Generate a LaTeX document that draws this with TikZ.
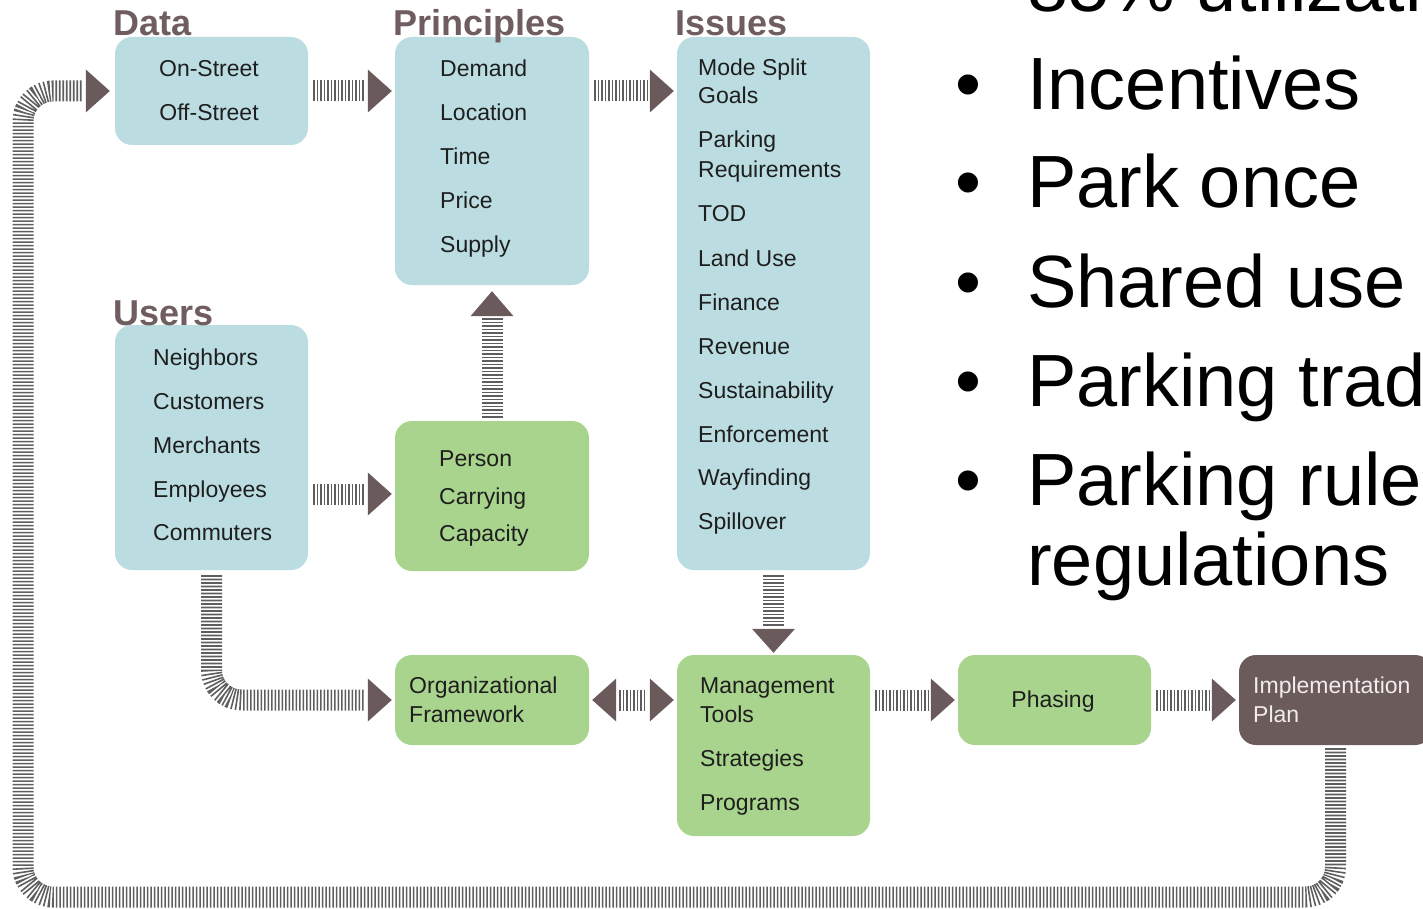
\documentclass[tikz,border=0pt]{standalone}
\usepackage{fontspec}
\setmainfont{Liberation Sans}
\usetikzlibrary{calc}
\definecolor{boxblue}{HTML}{BBDDE1}
\definecolor{boxgreen}{HTML}{A9D48D}
\definecolor{boxbrown}{HTML}{6B5B5B}
\definecolor{titlecol}{HTML}{6F5D5F}
\definecolor{tipcol}{HTML}{6B5A5B}
\definecolor{hatchcol}{HTML}{5E5E5E}
\definecolor{txtcol}{HTML}{1E1E1E}
\definecolor{impltxt}{HTML}{F2ECEC}
\newcommand\tipR[1]{\fill[tipcol] (#1) -- ++(-24,-21.5) -- ++(0,43) -- cycle;}
\newcommand\tipL[1]{\fill[tipcol] (#1) -- ++(24,-21.5) -- ++(0,43) -- cycle;}
\newcommand\tipU[1]{\fill[tipcol] (#1) -- ++(-21.5,25) -- ++(43,0) -- cycle;}
\newcommand\tipD[1]{\fill[tipcol] (#1) -- ++(-21.5,-24) -- ++(43,0) -- cycle;}
\begin{document}
\begin{tikzpicture}[x=1pt,y=-1pt,
  box/.style={rounded corners=17pt, inner sep=0pt, minimum width=193pt},
  bluebox/.style={box, fill=boxblue},
  greenbox/.style={box, fill=boxgreen},
  brownbox/.style={box, fill=boxbrown},
  txt/.style={font=\fontsize{23}{28}\selectfont, text=txtcol, inner sep=0pt, anchor=base west},
  ctxt/.style={txt, anchor=base},
  itxt/.style={txt, text=impltxt},
  title/.style={font=\fontsize{36}{40}\selectfont\bfseries, text=titlecol, inner sep=0pt, anchor=base west},
  big/.style={font=\fontsize{74}{80}\selectfont, text=black, inner sep=0pt, anchor=base west},
  bul/.style={font=\fontsize{74}{80}\selectfont, text=black, inner sep=0pt, anchor=base},
  hatch/.style={draw=hatchcol, line width=21pt, dash pattern=on 1.6pt off 1.9pt},
]
\useasboundingbox (0,0) rectangle (1423,909);
\clip (0,0) rectangle (1423,909);
\fill[white] (0,0) rectangle (1423,909);

% boxes
\node[bluebox, minimum height=108pt] (data) at (211.5,91) {};
\node[bluebox, minimum height=248pt, minimum width=194pt] (princ) at (492,161) {};
\node[bluebox, minimum height=533pt] (issues) at (773.5,303.5) {};
\node[bluebox, minimum height=245pt] (users) at (211.5,447.5) {};
\node[greenbox, minimum height=150pt, minimum width=194pt] (person) at (492,496) {};
\node[greenbox, minimum height=90pt, minimum width=194pt] (org) at (492,700) {};
\node[greenbox, minimum height=181pt] (mgmt) at (773.5,745.5) {};
\node[greenbox, minimum height=90pt] (phasing) at (1054.5,700) {};
\node[brownbox, minimum height=90pt] (impl) at (1335.5,700) {};

% titles
\node[title] (tdata) at (113,36) {Data};
\node[title] (tprinc) at (393,36) {Principles};
\node[title] (tissues) at (675,36) {Issues};
\node[title] (tusers) at (113,325) {Users};

% box texts
\node[ctxt] (d1) at (209,77) {On-Street};
\node[ctxt] (d2) at (209,121) {Off-Street};

\node[txt] (p1) at (440,77) {Demand};
\node[txt] (p2) at (440,121) {Location};
\node[txt] (p3) at (440,165) {Time};
\node[txt] (p4) at (440,209) {Price};
\node[txt] (p5) at (440,253) {Supply};

\node[txt] (i1) at (698,76) {Mode Split};
\node[txt] (i2) at (698,104) {Goals};
\node[txt] (i3) at (698,148) {Parking};
\node[txt] (i4) at (698,178) {Requirements};
\node[txt] (i5) at (698,222) {TOD};
\node[txt] (i6) at (698,266) {Land Use};
\node[txt] (i7) at (698,310) {Finance};
\node[txt] (i8) at (698,354) {Revenue};
\node[txt] (i9) at (698,398) {Sustainability};
\node[txt] (i10) at (698,442) {Enforcement};
\node[txt] (i11) at (698,485) {Wayfinding};
\node[txt] (i12) at (698,529) {Spillover};

\node[txt] (u1) at (153,365) {Neighbors};
\node[txt] (u2) at (153,409) {Customers};
\node[txt] (u3) at (153,453) {Merchants};
\node[txt] (u4) at (153,497) {Employees};
\node[txt] (u5) at (153,540) {Commuters};

\node[txt] (pc1) at (439,466) {Person};
\node[txt] (pc2) at (439,504) {Carrying};
\node[txt] (pc3) at (439,541) {Capacity};

\node[txt] (o1) at (409,693) {Organizational};
\node[txt] (o2) at (409,722) {Framework};

\node[txt] (m1) at (700,693) {Management};
\node[txt] (m2) at (700,722) {Tools};
\node[txt] (m3) at (700,766) {Strategies};
\node[txt] (m4) at (700,810) {Programs};

\node[ctxt] (ph1) at (1053,707) {Phasing};

\node[itxt] (im1) at (1253,693) {Implementation};
\node[itxt] (im2) at (1253,722) {Plan};

% right-hand bullet list
\node[big] (b0) at (1027,12) {85\% utilization};
\node[bul] (bb1) at (968,110) {•};
\node[big] (b1) at (1027,110) {Incentives};
\node[bul] (bb2) at (968,208) {•};
\node[big] (b2) at (1027,208) {Park once};
\node[bul] (bb3) at (968,307) {•};
\node[big] (b3) at (1027,307) {Shared use};
\node[bul] (bb4) at (968,406) {•};
\node[big] (b4) at (1027,406) {Parking trading};
\node[bul] (bb5) at (968,505) {•};
\node[big] (b5) at (1027,505) {Parking rules and};
\node[big] (b6) at (1027,585) {regulations};

% connectors
\coordinate (loopBL) at (23,897);
\draw[hatch, rounded corners=30pt] ($(impl.south)+(0,3)$) |- (loopBL) |- ($(data.west)+(-32,0)$);
\tipR{$(data.west)+(-5,0)$}

\draw[hatch] ($(data.east)+(5,0)$) -- ($(princ.west |- data.east)+(-30,0)$);
\tipR{$(princ.west |- data.east)+(-3,0)$}

\draw[hatch] ($(princ.east |- data.east)+(5,0)$) -- ($(issues.west |- data.east)+(-30,0)$);
\tipR{$(issues.west |- data.east)+(-3,0)$}

\draw[hatch] ($(users.east |- person.west)+(5,-2)$) -- ($(person.west)+(-30,-2)$);
\tipR{$(person.west)+(-3,-2)$}

\draw[hatch] ($(person.north)+(0,-3)$) -- ($(princ.south)+(0,33)$);
\tipU{$(princ.south)+(0,6)$}

\draw[hatch, rounded corners=30pt] ($(users.south)+(0,5)$) |- ($(org.west)+(-30,0)$);
\tipR{$(org.west)+(-3,0)$}

\draw[hatch] ($(org.east)+(30,0)$) -- ($(mgmt.west |- org.east)+(-30,0)$);
\tipL{$(org.east)+(3,0)$}
\tipR{$(mgmt.west |- org.east)+(-3,0)$}

\draw[hatch] ($(issues.south)+(0,5)$) -- ($(mgmt.north)+(0,-29)$);
\tipD{$(mgmt.north)+(0,-2)$}

\draw[hatch] ($(mgmt.east |- phasing.west)+(5,0)$) -- ($(phasing.west)+(-30,0)$);
\tipR{$(phasing.west)+(-3,0)$}

\draw[hatch] ($(phasing.east)+(5,0)$) -- ($(impl.west)+(-30,0)$);
\tipR{$(impl.west)+(-3,0)$}
\end{tikzpicture}
\end{document}
